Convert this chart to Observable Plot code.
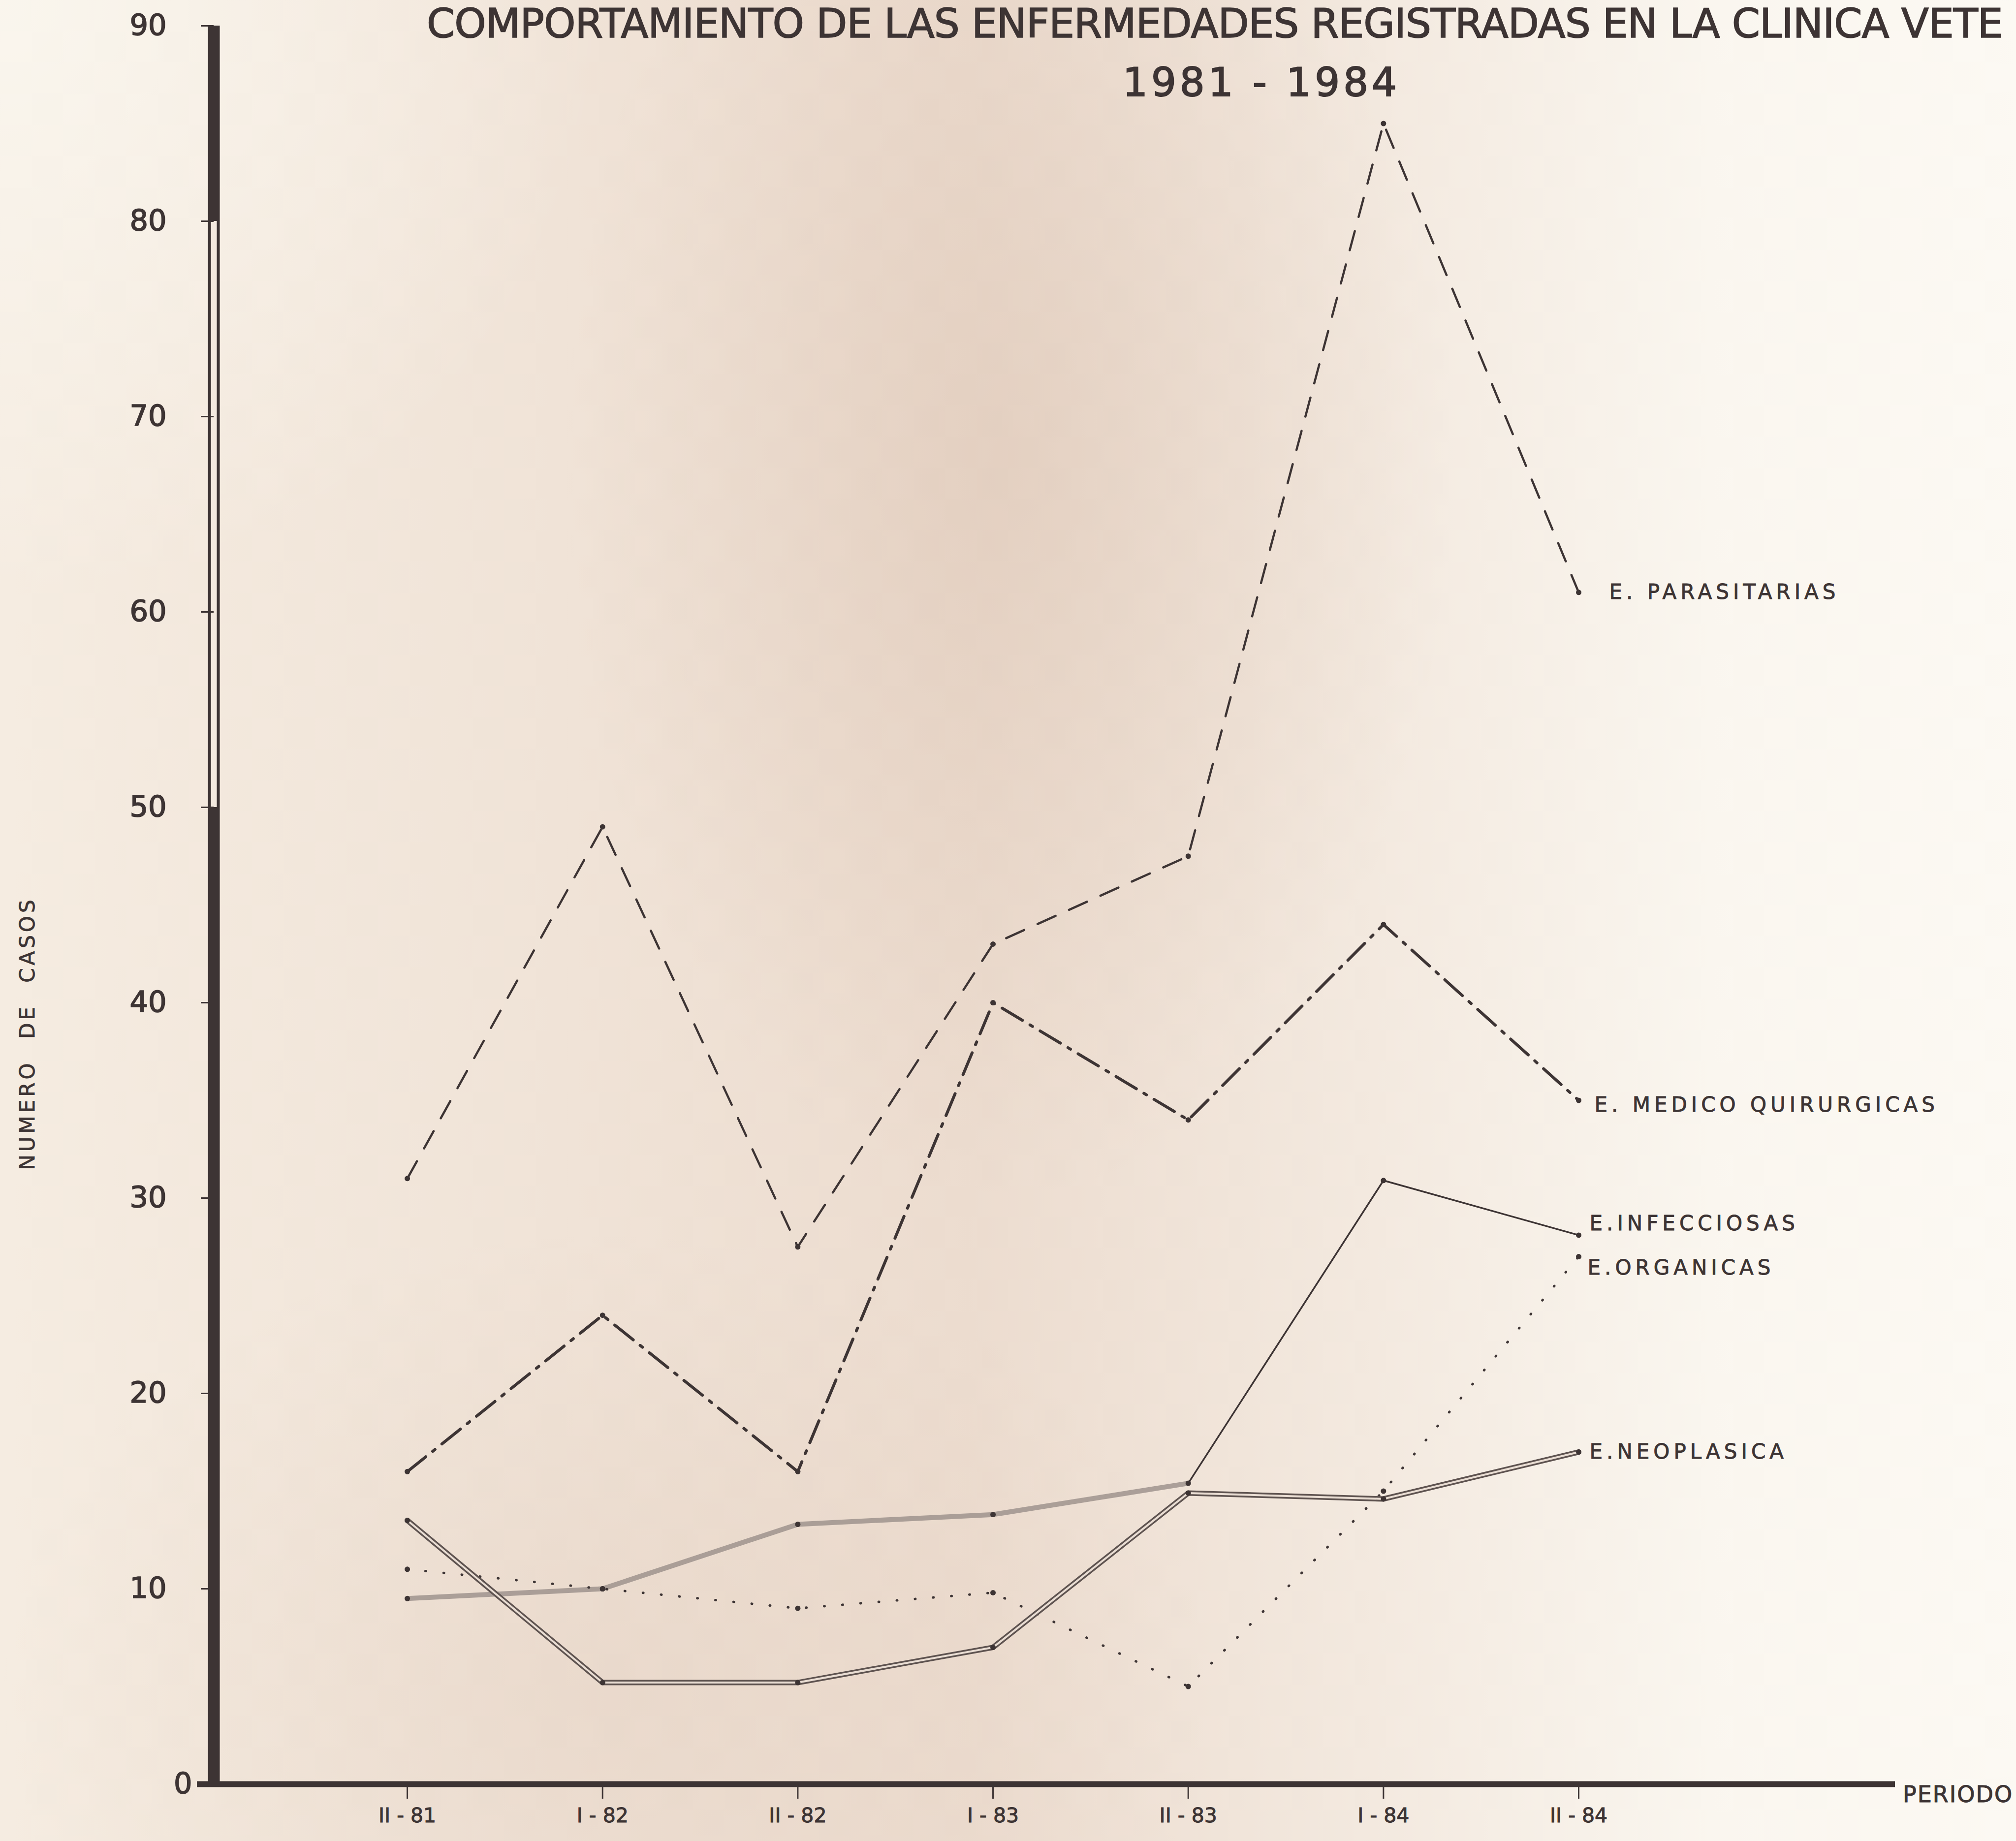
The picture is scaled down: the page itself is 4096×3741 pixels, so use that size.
<!DOCTYPE html>
<html>
<head>
<meta charset="utf-8">
<script src="https://cdn.jsdelivr.net/npm/d3@7"></script>
<script src="https://cdn.jsdelivr.net/npm/@observablehq/plot@0.6"></script>
<style>
html, body { margin: 0; padding: 0; width: 4096px; height: 3741px; overflow: hidden; }
body {
  position: relative;
  font-family: "DejaVu Sans", sans-serif;
  color: #3d3434;
  background:
    radial-gradient(circle at 0% 0%, rgba(250,246,238,0.95), rgba(250,246,238,0) 22%),
    radial-gradient(ellipse 22% 40% at 50% 25%, rgba(214,188,170,0.40), rgba(214,188,170,0) 100%),
    radial-gradient(ellipse 30% 25% at 30% 92%, rgba(222,200,184,0.35), rgba(222,200,184,0) 100%),
    linear-gradient(90deg, #f5ece1 0%, #f0e3d7 28%, #ecdccf 48%, #f3e9df 68%, #faf6ef 85%, #fcf9f3 100%);
}
#chart { position: absolute; left: 0; top: 0; }
.t { position: absolute; white-space: nowrap; line-height: 1; -webkit-text-stroke: 1.6px #3d3434; }
#title { left: 867px; top: 7px; font-size: 82px; letter-spacing: -1px; }
#sub { left: 2563px; top: 128px; font-size: 80px; letter-spacing: 7px; transform: translateX(-50%); -webkit-text-stroke: 2px #3d3434; }
#ytitle { left: 56px; top: 2100px; font-size: 42px; letter-spacing: 6px; word-spacing: 24px; transform: translate(-50%, -50%) rotate(-90deg); -webkit-text-stroke: 0.8px #3d3434; }
#xtitle { left: 3866px; top: 3623px; font-size: 46px; letter-spacing: 2px; -webkit-text-stroke: 1px #3d3434; }
svg g[aria-label="y-axis tick label"] text { stroke: #3d3434; stroke-width: 1.6px; }
svg g[aria-label="x-axis tick label"] text { stroke: #3d3434; stroke-width: 1px; }
svg g[aria-label="text"] text { stroke: #3d3434; stroke-width: 0.9px; }
</style>
</head>
<body>
<div id="chart"></div>
<div class="t" id="title">COMPORTAMIENTO DE LAS ENFERMEDADES REGISTRADAS EN LA CLINICA VETE</div>
<div class="t" id="sub">1981 - 1984</div>
<div class="t" id="ytitle">NUMERO DE CASOS</div>
<div class="t" id="xtitle">PERIODO</div>
<script>
// ---- data ----
const periods = ["II - 81", "I - 82", "II - 82", "I - 83", "II - 83", "I - 84", "II - 84"];
const parasitarias = [31, 49, 27.5, 43, 47.5, 85, 61];
const medicoQuirurgicas = [16, 24, 16, 40, 34, 44, 35];
const infecciosas = [9.5, 10, 13.3, 13.8, 15.4, 30.9, 28.1];
const organicas = [11, 10, 9, 9.8, 5, 15, 27];
const neoplasica = [13.5, 5.2, 5.2, 7, 14.9, 14.6, 17];
const seriesNames = ["E. PARASITARIAS", "E. MEDICO QUIRURGICAS", "E.INFECCIOSAS", "E.ORGANICAS", "E.NEOPLASICA"];
const yTicks = [0, 10, 20, 30, 40, 50, 60, 70, 80, 90];
const axisHollow = [50, 80];      // stretch of the y axis drawn as an open double line
const infecBandEnd = 4;           // infecciosas drawn as a grey band up to this period

// ---- styles ----
const ink = "#3d3434";
const paper = "#f3e9df";
const X0 = -0.991, X1 = 7.621;    // frame edges, in period-index units

const keys = ["par", "med", "inf", "org", "neo"];
const valueLists = [parasitarias, medicoQuirurgicas, infecciosas, organicas, neoplasica];
const rows = keys.flatMap((k, s) => valueLists[s].map((v, i) => ({key: k, name: seriesNames[s], i, period: periods[i], value: v})));
const sel = k => rows.filter(d => d.key === k);
const last = k => sel(k).slice(-1);

const labelStyle = {x: "i", y: "value", text: "name", fontSize: 42, fill: ink, textAnchor: "start"};

const chart = Plot.plot({
  width: 4096,
  height: 3741,
  marginLeft: 434,
  marginRight: 246,
  marginTop: 52,
  marginBottom: 116,
  style: {fontFamily: "DejaVu Sans", background: "transparent", overflow: "visible"},
  x: {domain: [X0, X1], label: null},
  y: {domain: [0, 90], label: null},
  marks: [
    // axes
    Plot.ruleY([0], {stroke: ink, strokeWidth: 12, insetLeft: -34}),
    Plot.ruleX([X0], {stroke: ink, strokeWidth: 24}),
    Plot.ruleX([X0], {y1: axisHollow[0], y2: axisHollow[1], stroke: paper, strokeWidth: 12}),
    Plot.axisY(yTicks.filter(v => v > 0), {tickSize: 26, tickPadding: 70, fontSize: 59, color: ink, strokeWidth: 3, label: null}),
    Plot.axisY([0], {tickSize: 0, tickPadding: 44, fontSize: 59, color: ink, label: null}),
    Plot.axisX(d3.range(periods.length), {tickFormat: i => periods[i], tickSize: 30, tickPadding: 18, fontSize: 41, color: ink, strokeWidth: 3, label: null}),

    // E. PARASITARIAS — dashed
    Plot.line(sel("par"), {x: "i", y: "value", stroke: ink, strokeWidth: 4.5, strokeDasharray: "40 30"}),
    // E. MEDICO QUIRURGICAS — dash-dot
    Plot.line(sel("med"), {x: "i", y: "value", stroke: ink, strokeWidth: 6, strokeDasharray: "48 18 6 18"}),
    // E. INFECCIOSAS — grey band then thin solid
    Plot.line(sel("inf").filter(d => d.i <= infecBandEnd), {x: "i", y: "value", stroke: "#9a8e89", strokeWidth: 10, strokeOpacity: 0.8}),
    Plot.line(sel("inf").filter(d => d.i >= infecBandEnd), {x: "i", y: "value", stroke: ink, strokeWidth: 3.5}),
    // E. ORGANICAS — dotted
    Plot.line(sel("org"), {x: "i", y: "value", stroke: ink, strokeWidth: 5, strokeDasharray: "1 36", strokeLinecap: "round"}),
    // E. NEOPLASICA — double line
    Plot.line(sel("neo"), {x: "i", y: "value", stroke: "#5e5350", strokeWidth: 11}),
    Plot.line(sel("neo"), {x: "i", y: "value", stroke: "#e9ddd3", strokeWidth: 4}),

    // vertex dots
    Plot.dot(rows, {x: "i", y: "value", r: 5.5, fill: ink}),

    // end labels
    Plot.text(last("par"), {...labelStyle, dx: 62}),
    Plot.text(last("med"), {...labelStyle, dx: 32, dy: 10}),
    Plot.text(last("inf"), {...labelStyle, dx: 22, dy: -23}),
    Plot.text(last("org"), {...labelStyle, dx: 18, dy: 23}),
    Plot.text(last("neo"), {...labelStyle, dx: 22})
  ]
});

chart.querySelectorAll('g[aria-label="text"] text').forEach(t => t.setAttribute("letter-spacing", "8"));
document.getElementById("chart").appendChild(chart);
</script>
</body>
</html>
